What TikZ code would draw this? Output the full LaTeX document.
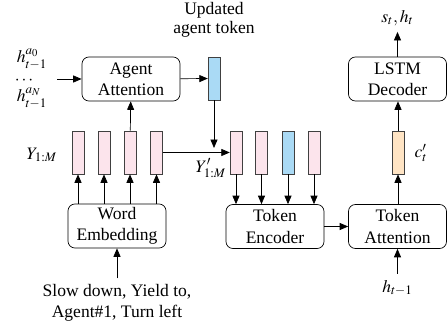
\documentclass[tikz,border=0pt]{standalone}
\usepackage{mathptmx}
\usepackage{fontspec}
\setmainfont{Liberation Serif}
\usetikzlibrary{arrows.meta}
\usetikzlibrary{positioning}
\definecolor{tokpink}{RGB}{252,228,236}
\definecolor{tokblue}{RGB}{170,218,245}
\definecolor{tokorange}{RGB}{255,228,196}

\begin{document}
\begin{tikzpicture}[x=0.57pt,y=-0.57pt,
  block/.style={draw,rounded corners=4pt,minimum width=55.9pt,minimum height=25.1pt,align=center,inner sep=1pt},
  tok/.style={draw=black!75,minimum width=6.7pt,minimum height=24.5pt,inner sep=0pt},
  arr/.style={-{Triangle[length=4.8pt,width=4pt]}}]
\useasboundingbox (0,0) rectangle (448,328);
\node[block] (agentatt) at (131,79) {Agent\\Attention}; %blocks
\node[block] (wordemb) at (117,226) {Word\\Embedding};
\node[block] (tokenc) at (275,226.5) {Token\\Encoder};
\node[block] (tokatt) at (397.5,226.5) {Token\\Attention};
\node[block] (lstm) at (397.5,79) {LSTM\\Decoder};
\node[tok,fill=tokblue] (upd) at (214,78.5) {}; %updated token
\node[tok,fill=tokpink] (y1) at (78,152.5) {}; %Y_{1:M}
\node[tok,fill=tokpink] (y2) at (104,152.5) {};
\node[tok,fill=tokpink] (y3) at (130,152.5) {};
\node[tok,fill=tokpink] (y4) at (156.5,152.5) {};
\node[tok,fill=tokpink] (z1) at (236,152.5) {}; %Y'_{1:M}
\node[tok,fill=tokpink] (z2) at (261.5,152.5) {};
\node[tok,fill=tokblue] (z3) at (288,152.5) {};
\node[tok,fill=tokpink] (z4) at (314,152.5) {};
\node[tok,fill=tokorange] (ct) at (398,152.5) {}; %context
\node (upd_lbl) at (214,20) [align=center] {Updated\\[-1pt]agent token};
\node[inner sep=0pt] (h0) at (32,59) {$h^{a_0}_{t-1}$};
\node[inner sep=0pt] (hdots) at (24,81) {$\cdots$};
\node[inner sep=0pt] (hN) at (32,98) {$h^{a_N}_{t-1}$};
\node (y_lbl) at (42,155) {$Y_{1:M}$};
\node (z_lbl) at (211,168) {$Y'_{1:M}$};
\node (ct_lbl) at (421,153) {$c'_t$};
\node (out) at (397.5,18) {$s_t, h_t$};
\node (hprev) at (397.5,288) {$h_{t-1}$};
\node (words) at (117,303) [align=center] {Slow down, Yield to,\\Agent\#1, Turn left};
\coordinate (hin) at (57,79);
\coordinate (zin) at (z1.west |- y4.east);
\coordinate (updend) at (214,148);
\draw[arr] (hin) -- (agentatt);
\draw[arr] (agentatt) -- (upd);
\draw[arr] (y3) -- (agentatt);
\draw[arr] (y4.east) -- (zin);
\draw[arr] (upd) -- (updend);
\foreach \b in {y1,y2,y3,y4} \draw[arr] (\b |- wordemb.north) -- (\b);
\foreach \b in {z1,z2,z3,z4} \draw[arr] (\b) -- (\b |- tokenc.north);
\draw[arr] (words) -- (wordemb);
\draw[arr] (tokenc) -- (tokatt);
\draw[arr] (tokatt.north -| ct) -- (ct);
\draw[arr] (ct) -- (ct |- lstm.south);
\draw[arr] (lstm) -- (out);
\draw[arr] (hprev) -- (tokatt);
\end{tikzpicture}
\end{document}
